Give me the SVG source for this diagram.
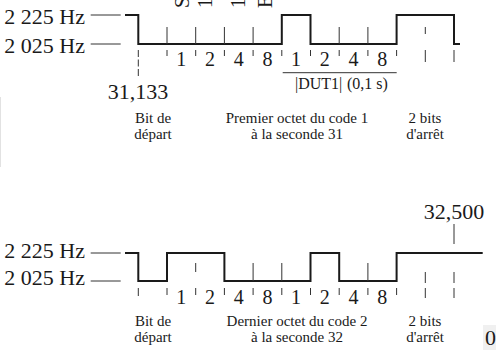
<svg xmlns="http://www.w3.org/2000/svg" width="496" height="350" viewBox="0 0 496 350" font-family="'Liberation Serif', 'Times New Roman', Times, serif">
  <style>
    .wave { fill: none; stroke: #1a1a1a; stroke-width: 2; stroke-linejoin: miter; }
    .tick { stroke: #333; stroke-width: 1; }
    .lead { stroke: #333; stroke-width: 1; }
    text { font-family: 'Liberation Serif', 'Times New Roman', Times, serif; fill: #1a1a1a; }
    .hz { font-size: 22px; }
    .dig { font-size: 20px; text-anchor: middle; }
    .cap { font-size: 15px; text-anchor: middle; }
    .dut { font-size: 16px; }
  </style>
  <rect width="496" height="350" fill="#fff"/>
  <line x1="0.5" y1="97" x2="0.5" y2="167" stroke="#e2e2e2" stroke-width="1"/>

  <!-- rotated bit headings, mostly outside the top edge -->
  <g id="headings" font-size="20">
    <text transform="translate(188.5,8) rotate(-90)">S</text>
    <text transform="translate(212,8) rotate(-90)">1</text>
    <text transform="translate(245,8) rotate(-90)">1</text>
    <text transform="translate(272,8) rotate(-90)">E</text>
  </g>

  <!-- first frame: start of second 31 -->
  <g id="frame1">
    <g id="levels1">
      <text class="hz" x="85" y="24" text-anchor="end">2 225 Hz</text>
      <text class="hz" x="85" y="53" text-anchor="end">2 025 Hz</text>
      <line class="lead" x1="90.7" y1="15" x2="120.7" y2="15"/>
      <line class="lead" x1="90.7" y1="44" x2="120.7" y2="44"/>
    </g>
    <path id="signal1" class="wave" d="M125,15 H138.3 V44 H281.8 V15 H310.5 V44 H396.6 V15 H454 V44 H460"/>
    <g id="ticks1" class="tick">
      <line x1="167" y1="27" x2="167" y2="44"/>
      <line x1="195.7" y1="27" x2="195.7" y2="44"/>
      <line x1="224.4" y1="27" x2="224.4" y2="44"/>
      <line x1="253.1" y1="27" x2="253.1" y2="44"/>
      <line x1="339.2" y1="27" x2="339.2" y2="44"/>
      <line x1="367.9" y1="27" x2="367.9" y2="44"/>
      <line x1="425.3" y1="27" x2="425.3" y2="34"/>
      <line x1="138.3" y1="50" x2="138.3" y2="77" stroke-dasharray="7,2.5"/>
      <line x1="167" y1="50" x2="167" y2="56"/>
      <line x1="195.7" y1="50" x2="195.7" y2="56"/>
      <line x1="224.4" y1="50" x2="224.4" y2="56"/>
      <line x1="253.1" y1="50" x2="253.1" y2="56"/>
      <line x1="281.8" y1="50" x2="281.8" y2="56"/>
      <line x1="310.5" y1="50" x2="310.5" y2="56"/>
      <line x1="339.2" y1="50" x2="339.2" y2="56"/>
      <line x1="367.9" y1="50" x2="367.9" y2="56"/>
      <line x1="396.6" y1="50" x2="396.6" y2="56"/>
      <line x1="425.3" y1="50" x2="425.3" y2="62"/>
      <line x1="454" y1="50" x2="454" y2="62"/>
    </g>
    <g id="weights1">
      <text class="dig" x="181.3" y="66">1</text>
      <text class="dig" x="210" y="66">2</text>
      <text class="dig" x="238.7" y="66">4</text>
      <text class="dig" x="267.5" y="66">8</text>
      <text class="dig" x="296.1" y="66">1</text>
      <text class="dig" x="324.8" y="66">2</text>
      <text class="dig" x="353.5" y="66">4</text>
      <text class="dig" x="382.2" y="66">8</text>
    </g>
    <g id="dut1">
      <line class="lead" x1="282.7" y1="72.7" x2="396.7" y2="72.7"/>
      <text class="dut" x="295" y="89">|DUT1|</text>
      <text class="dut" x="347" y="89">(0,1 s)</text>
    </g>
    <text id="t31" class="hz" x="138" y="99" text-anchor="middle">31,133</text>
    <g id="captions1">
      <text class="cap" x="153" y="123">Bit de</text>
      <text class="cap" x="153" y="139">départ</text>
      <text class="cap" x="297" y="123">Premier octet du code 1</text>
      <text class="cap" x="297" y="139">à la seconde 31</text>
      <text class="cap" x="425" y="123">2 bits</text>
      <text class="cap" x="425" y="139">d'arrêt</text>
    </g>
  </g>

  <!-- second frame: end of second 32 -->
  <g id="frame2">
    <g id="levels2">
      <text class="hz" x="85" y="258" text-anchor="end">2 225 Hz</text>
      <text class="hz" x="85" y="285" text-anchor="end">2 025 Hz</text>
      <line class="lead" x1="90.7" y1="253" x2="120.7" y2="253"/>
      <line class="lead" x1="90.7" y1="281" x2="120.7" y2="281"/>
    </g>
    <path id="signal2" class="wave" d="M125,253 H138.3 V281 H167 V253 H224.4 V281 H310.5 V253 H339.2 V281 H396.6 V253 H482.7"/>
    <g id="ticks2" class="tick">
      <line x1="195.7" y1="263" x2="195.7" y2="272"/>
      <line x1="253.1" y1="263" x2="253.1" y2="281"/>
      <line x1="281.8" y1="263" x2="281.8" y2="281"/>
      <line x1="367.9" y1="263" x2="367.9" y2="281"/>
      <line x1="425.3" y1="272" x2="425.3" y2="283"/>
      <line x1="454" y1="272" x2="454" y2="283"/>
      <line x1="138.3" y1="288" x2="138.3" y2="296"/>
      <line x1="167" y1="288" x2="167" y2="295"/>
      <line x1="195.7" y1="288" x2="195.7" y2="295"/>
      <line x1="224.4" y1="288" x2="224.4" y2="295"/>
      <line x1="253.1" y1="288" x2="253.1" y2="295"/>
      <line x1="281.8" y1="288" x2="281.8" y2="295"/>
      <line x1="310.5" y1="288" x2="310.5" y2="295"/>
      <line x1="339.2" y1="288" x2="339.2" y2="295"/>
      <line x1="367.9" y1="288" x2="367.9" y2="295"/>
      <line x1="396.6" y1="288" x2="396.6" y2="295"/>
      <line x1="425.3" y1="288" x2="425.3" y2="298"/>
      <line x1="454" y1="288" x2="454" y2="298"/>
      <line x1="454" y1="224" x2="454" y2="244"/>
    </g>
    <g id="weights2">
      <text class="dig" x="181.3" y="304">1</text>
      <text class="dig" x="210" y="304">2</text>
      <text class="dig" x="238.7" y="304">4</text>
      <text class="dig" x="267.5" y="304">8</text>
      <text class="dig" x="296.1" y="304">1</text>
      <text class="dig" x="324.8" y="304">2</text>
      <text class="dig" x="353.5" y="304">4</text>
      <text class="dig" x="382.2" y="304">8</text>
    </g>
    <text id="t32" class="hz" x="454" y="219" text-anchor="middle">32,500</text>
    <g id="captions2">
      <text class="cap" x="153" y="326">Bit de</text>
      <text class="cap" x="153" y="342">départ</text>
      <text class="cap" x="297" y="326">Dernier octet du code 2</text>
      <text class="cap" x="297" y="342">à la seconde 32</text>
      <text class="cap" x="425" y="326">2 bits</text>
      <text class="cap" x="425" y="342">d'arrêt</text>
    </g>
  </g>

  <g id="corner">
    <rect x="483" y="325" width="13" height="25" fill="#f0f0f0"/>
    <text class="hz" x="485" y="345">0</text>
  </g>
</svg>
